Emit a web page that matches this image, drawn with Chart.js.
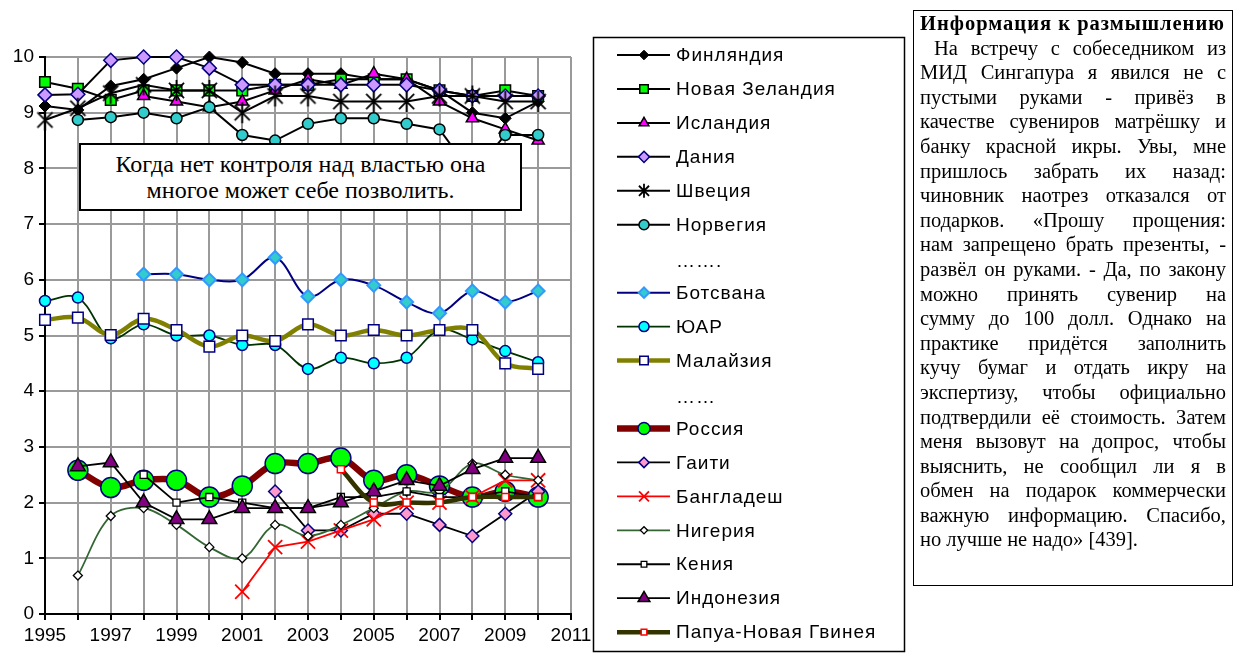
<!DOCTYPE html>
<html>
<head>
<meta charset="utf-8">
<script src="https://cdn.jsdelivr.net/npm/chart.js@4/dist/chart.umd.min.js"></script>
<style>
html,body{margin:0;padding:0;background:#fff;width:1233px;height:655px;overflow:hidden;}
#wrap{position:relative;width:1233px;height:655px;}
#c{position:absolute;left:0;top:0;}
#note{position:absolute;left:79px;top:143px;width:439px;height:64px;border:2px solid #000;background:#fff;
  font-family:'Liberation Serif','Times New Roman',serif;font-size:24px;line-height:26px;text-align:center;
  display:flex;flex-direction:column;align-items:center;justify-content:center;color:#000;}
#info{position:absolute;left:913px;top:10px;width:306px;height:574px;border:1.5px solid #000;padding:0px 6px;
  font-family:'Liberation Serif','Times New Roman',serif;font-size:20.5px;line-height:24.6px;color:#000;}
#info div{text-align:justify;text-align-last:justify;white-space:nowrap;}
#info div.t{font-weight:bold;text-align-last:left;letter-spacing:1px;}
#info div.i{text-indent:14px;}
#info div.l{text-align-last:left;}
</style>
</head>
<body>
<div id="wrap">
<canvas id="c" width="1233" height="655"></canvas>
<div id="note"><div>Когда нет контроля над властью она</div><div>многое может себе позволить.</div></div>
<div id="info"></div>
</div>
<script>
// ---------- data ----------
const years = [1995,1996,1997,1998,1999,2000,2001,2002,2003,2004,2005,2006,2007,2008,2009,2010];
const finland     = [9.12,9.05,9.48,9.6,9.8,10.0,9.9,9.7,9.7,9.7,9.6,9.6,9.4,9.0,8.9,9.2];
const newZealand  = [9.55,9.43,9.23,9.4,9.4,9.4,9.4,9.5,9.5,9.6,9.6,9.6,9.4,9.3,9.4,9.3];
const iceland     = [null,null,null,9.3,9.2,9.1,9.2,9.4,9.6,9.5,9.7,9.6,9.2,8.9,8.7,8.5];
const denmark     = [9.32,9.33,9.94,10.0,10.0,9.8,9.5,9.5,9.5,9.5,9.5,9.5,9.4,9.3,9.3,9.3];
const sweden      = [8.87,9.08,9.35,9.5,9.4,9.4,9.0,9.3,9.3,9.2,9.2,9.2,9.3,9.3,9.2,9.2];
const norway      = [null,8.87,8.92,9.0,8.9,9.1,8.6,8.5,8.8,8.9,8.9,8.8,8.7,7.9,8.6,8.6];
const botswana    = [null,null,null,6.1,6.1,6.0,6.0,6.4,5.7,6.0,5.9,5.6,5.4,5.8,5.6,5.8];
const southAfrica = [5.62,5.68,4.95,5.2,5.0,5.0,4.83,4.83,4.4,4.6,4.5,4.6,5.1,4.93,4.72,4.52];
const malaysia    = [5.28,5.32,5.01,5.3,5.1,4.8,5.0,4.9,5.2,5.0,5.1,5.0,5.1,5.1,4.5,4.4];
const russia      = [null,2.58,2.27,2.4,2.4,2.1,2.3,2.7,2.7,2.8,2.4,2.5,2.3,2.1,2.2,2.1];
const haiti       = [null,null,null,null,null,null,null,2.2,1.5,1.5,1.8,1.8,1.6,1.4,1.8,2.2];
const bangladesh  = [null,null,null,null,null,null,0.4,1.2,1.3,1.5,1.7,2.0,2.0,2.1,2.4,2.4];
const nigeria     = [null,0.69,1.76,1.9,1.6,1.2,1.0,1.6,1.4,1.6,1.9,2.2,2.2,2.7,2.5,2.4];
const kenya       = [null,null,null,2.5,2.0,2.1,2.0,1.9,1.9,2.1,2.1,2.2,2.1,2.1,2.2,2.1];
const indonesia   = [null,2.65,2.72,2.0,1.7,1.7,1.9,1.9,1.9,2.0,2.2,2.4,2.3,2.6,2.8,2.8];
const papuaNG     = [null,null,null,null,null,null,null,null,null,2.6,2.0,2.0,2.0,2.1,2.1,2.1];

const names = ['Финляндия','Новая Зеландия','Исландия','Дания','Швеция','Норвегия','Ботсвана','ЮАР','Малайзия',
  'Россия','Гаити','Бангладеш','Нигерия','Кения','Индонезия','Папуа-Новая Гвинея'];
const legendDots = ['…….', '……'];
const xMin = 1995, xMax = 2011, yMin = 0, yMax = 10;

const infoLines = [
 'Информация к размышлению',
 'На встречу с собеседником из',
 'МИД Сингапура я явился не с',
 'пустыми руками - привёз в',
 'качестве сувениров матрёшку и',
 'банку красной икры. Увы, мне',
 'пришлось забрать их назад:',
 'чиновник наотрез отказался от',
 'подарков. «Прошу прощения:',
 'нам запрещено брать презенты, -',
 'развёл он руками. - Да, по закону',
 'можно принять сувенир на',
 'сумму до 100 долл. Однако на',
 'практике придётся заполнить',
 'кучу бумаг и отдать икру на',
 'экспертизу, чтобы официально',
 'подтвердили её стоимость. Затем',
 'меня вызовут на допрос, чтобы',
 'выяснить, не сообщил ли я в',
 'обмен на подарок коммерчески',
 'важную информацию. Спасибо,',
 'но лучше не надо» [439].'
];

// ---------- info box ----------
const info = document.getElementById('info');
infoLines.forEach((t,i)=>{
  const d = document.createElement('div');
  d.textContent = t;
  if(i===0) d.className='t';
  else if(i===1) d.className='i';
  else if(i===infoLines.length-1) d.className='l';
  info.appendChild(d);
});

// ---------- marker for Sweden (asterisk) ----------
function asterisk(r){
  const c = document.createElement('canvas');
  const s = Math.ceil(r*2+4); c.width = s; c.height = s;
  const g = c.getContext('2d'); const m = s/2;
  g.strokeStyle = '#000'; g.lineWidth = 1.8;
  g.beginPath();
  const d = r*0.72;
  g.moveTo(m-d,m-d); g.lineTo(m+d,m+d);
  g.moveTo(m+d,m-d); g.lineTo(m-d,m+d);
  g.moveTo(m,m-r); g.lineTo(m,m+r);
  g.stroke();
  return c;
}

// ---------- styles ----------
const seriesValues = [finland,newZealand,iceland,denmark,sweden,norway,botswana,southAfrica,malaysia,
  russia,haiti,bangladesh,nigeria,kenya,indonesia,papuaNG];
const styles = [
 {line:'#000000', lw:2,   ps:'rectRot',  r:6,   fill:'#000000', bc:'#000000', bw:1,   t:0},
 {line:'#000000', lw:2,   ps:'rect',     r:7.5, fill:'#00ff00', bc:'#000000', bw:1.5, t:0},
 {line:'#000000', lw:2,   ps:'triangle', r:7,   fill:'#ff00ff', bc:'#000000', bw:1.5, t:0},
 {line:'#000000', lw:2,   ps:'rectRot',  r:7,   fill:'#cc99ff', bc:'#000080', bw:1.5, t:0},
 {line:'#000000', lw:2,   ps:'asterisk', r:10.5,fill:'#000000', bc:'#000000', bw:1.8, t:0},
 {line:'#000000', lw:2,   ps:'circle',   r:5.5, fill:'#33cccc', bc:'#000000', bw:1.5, t:0},
 {line:'#000080', lw:2,   ps:'rectRot',  r:6.5, fill:'#33cccc', bc:'#3399ff', bw:2,   t:0.35},
 {line:'#003300', lw:1.8, ps:'circle',   r:5.5, fill:'#00ffff', bc:'#000080', bw:1.5, t:0.35},
 {line:'#808000', lw:4.5, ps:'rect',     r:7.5, fill:'#ffffff', bc:'#000080', bw:1.5, t:0.35},
 {line:'#800000', lw:6.5, ps:'circle',   r:10,  fill:'#00ff00', bc:'#000080', bw:1.5, t:0.35},
 {line:'#000000', lw:1.8, ps:'rectRot',  r:6.5, fill:'#ff99cc', bc:'#000080', bw:1.5, t:0},
 {line:'#ff0000', lw:1.8, ps:'crossRot', r:10,  fill:'#ff0000', bc:'#ff0000', bw:1.8, t:0},
 {line:'#336633', lw:1.8, ps:'rectRot',  r:4.5, fill:'#ffffff', bc:'#000000', bw:1.3, t:0.35},
 {line:'#000000', lw:1.8, ps:'rect',     r:5,   fill:'#ffffff', bc:'#000000', bw:1.3, t:0},
 {line:'#000000', lw:1.8, ps:'triangle', r:8.5, fill:'#800080', bc:'#000000', bw:1.5, t:0},
 {line:'#333300', lw:4.5, ps:'rect',     r:5,   fill:'#ffffff', bc:'#ff0000', bw:1.5, t:0.35}
];
const astImg = asterisk(10.5);

const datasets = seriesValues.map((vals,i)=>{
  const s = styles[i];
  return {
    label: names[i],
    data: years.map((x,k)=> vals[k]===null ? null : {x:x, y:vals[k]}).filter(p=>p!==null),
    borderColor: s.line, borderWidth: s.lw, tension: s.t, cubicInterpolationMode:'default',
    pointStyle: s.ps==='asterisk' ? astImg : s.ps,
    pointRadius: s.r, pointHoverRadius: s.r,
    pointBackgroundColor: s.fill, pointBorderColor: s.bc, pointBorderWidth: s.bw,
    fill:false, order: -i, clip:false
  };
});

// ---------- legend drawing ----------
function drawMarker(ctx, s, x, y, r){
  ctx.save();
  ctx.fillStyle = s.fill; ctx.strokeStyle = s.bc; ctx.lineWidth = s.bw;
  ctx.beginPath();
  switch(s.ps){
    case 'circle': ctx.arc(x,y,r,0,Math.PI*2); break;
    case 'rect': { const h = r*Math.SQRT1_2; ctx.rect(x-h,y-h,2*h,2*h); break; }
    case 'rectRot': ctx.moveTo(x-r,y); ctx.lineTo(x,y-r); ctx.lineTo(x+r,y); ctx.lineTo(x,y+r); ctx.closePath(); break;
    case 'triangle': {
      ctx.moveTo(x, y-r); ctx.lineTo(x+r*Math.sin(2*Math.PI/3), y-r*Math.cos(2*Math.PI/3));
      ctx.lineTo(x+r*Math.sin(4*Math.PI/3), y-r*Math.cos(4*Math.PI/3)); ctx.closePath(); break; }
    case 'crossRot': { const d=r*Math.SQRT1_2; ctx.moveTo(x-d,y-d); ctx.lineTo(x+d,y+d); ctx.moveTo(x+d,y-d); ctx.lineTo(x-d,y+d);
      ctx.stroke(); ctx.restore(); return; }
    case 'asterisk': { const d=r*0.72; ctx.moveTo(x-d,y-d); ctx.lineTo(x+d,y+d); ctx.moveTo(x+d,y-d); ctx.lineTo(x-d,y+d);
      ctx.moveTo(x,y-r); ctx.lineTo(x,y+r); ctx.stroke(); ctx.restore(); return; }
  }
  ctx.fill(); ctx.stroke();
  ctx.restore();
}

const legendPlugin = {
  id:'customLegend',
  afterDraw(chart){
    const ctx = chart.ctx;
    ctx.save();
    ctx.strokeStyle='#000'; ctx.lineWidth=1.5;
    ctx.strokeRect(593.5,37.5,311,614);
    const rows = [];
    names.forEach((n,i)=>{
      rows.push({i});
      if(i===5) rows.push({dots:legendDots[0]});
      if(i===8) rows.push({dots:legendDots[1]});
    });
    const y0 = 55, step = 33.95;
    ctx.font = '19px "Liberation Sans", Arial, sans-serif';
    try { ctx.letterSpacing = '1px'; } catch(e) {}
    ctx.textBaseline = 'middle'; ctx.textAlign = 'left'; ctx.fillStyle='#000';
    rows.forEach((row,k)=>{
      const y = y0 + k*step;
      if(row.dots){ ctx.fillStyle='#000'; ctx.fillText(row.dots, 676, y+3); return; }
      const s = styles[row.i];
      ctx.strokeStyle = s.line; ctx.lineWidth = s.lw; ctx.lineCap='butt';
      ctx.beginPath(); ctx.moveTo(617,y); ctx.lineTo(670,y); ctx.stroke();
      const lr = s.ps==='circle' ? (row.i===9 ? 6 : 5) : (s.ps==='asterisk' ? 7 : Math.min(s.r*0.8, 7));
      drawMarker(ctx, s, 644, y, lr);
      ctx.fillStyle='#000';
      ctx.fillText(names[row.i], 676, y+1);
    });
    ctx.restore();
  }
};

new Chart(document.getElementById('c'), {
  type:'line',
  data:{datasets},
  plugins:[legendPlugin],
  options:{
    responsive:false, animation:false, devicePixelRatio:1,
    layout:{padding:{left:0, top:57, right:662, bottom:0}},
    plugins:{legend:{display:false}, tooltip:{enabled:false}},
    elements:{line:{capBezierPoints:true}},
    scales:{
      x:{type:'linear', min:xMin, max:xMax,
        afterFit(s){ s.height = 41; },
        grid:{color:'#9a9a9a', lineWidth:2, tickColor:'#000', tickLength:6, drawTicks:true},
        border:{color:'#000', width:2},
        ticks:{stepSize:1, autoSkip:false, maxRotation:0, padding:4, color:'#000',
          font:{family:'"Liberation Sans", Arial, sans-serif', size:19},
          callback:(v)=> ((v-xMin)%2===0 ? String(v) : '')}
      },
      y:{type:'linear', min:yMin, max:yMax,
        afterFit(s){ s.width = 45; },
        grid:{color:'#9a9a9a', lineWidth:2, tickColor:'#000', tickLength:6},
        border:{color:'#000', width:2},
        ticks:{stepSize:1, padding:5, color:'#000',
          font:{family:'"Liberation Sans", Arial, sans-serif', size:19}}
      }
    }
  }
});
</script>
</body>
</html>
